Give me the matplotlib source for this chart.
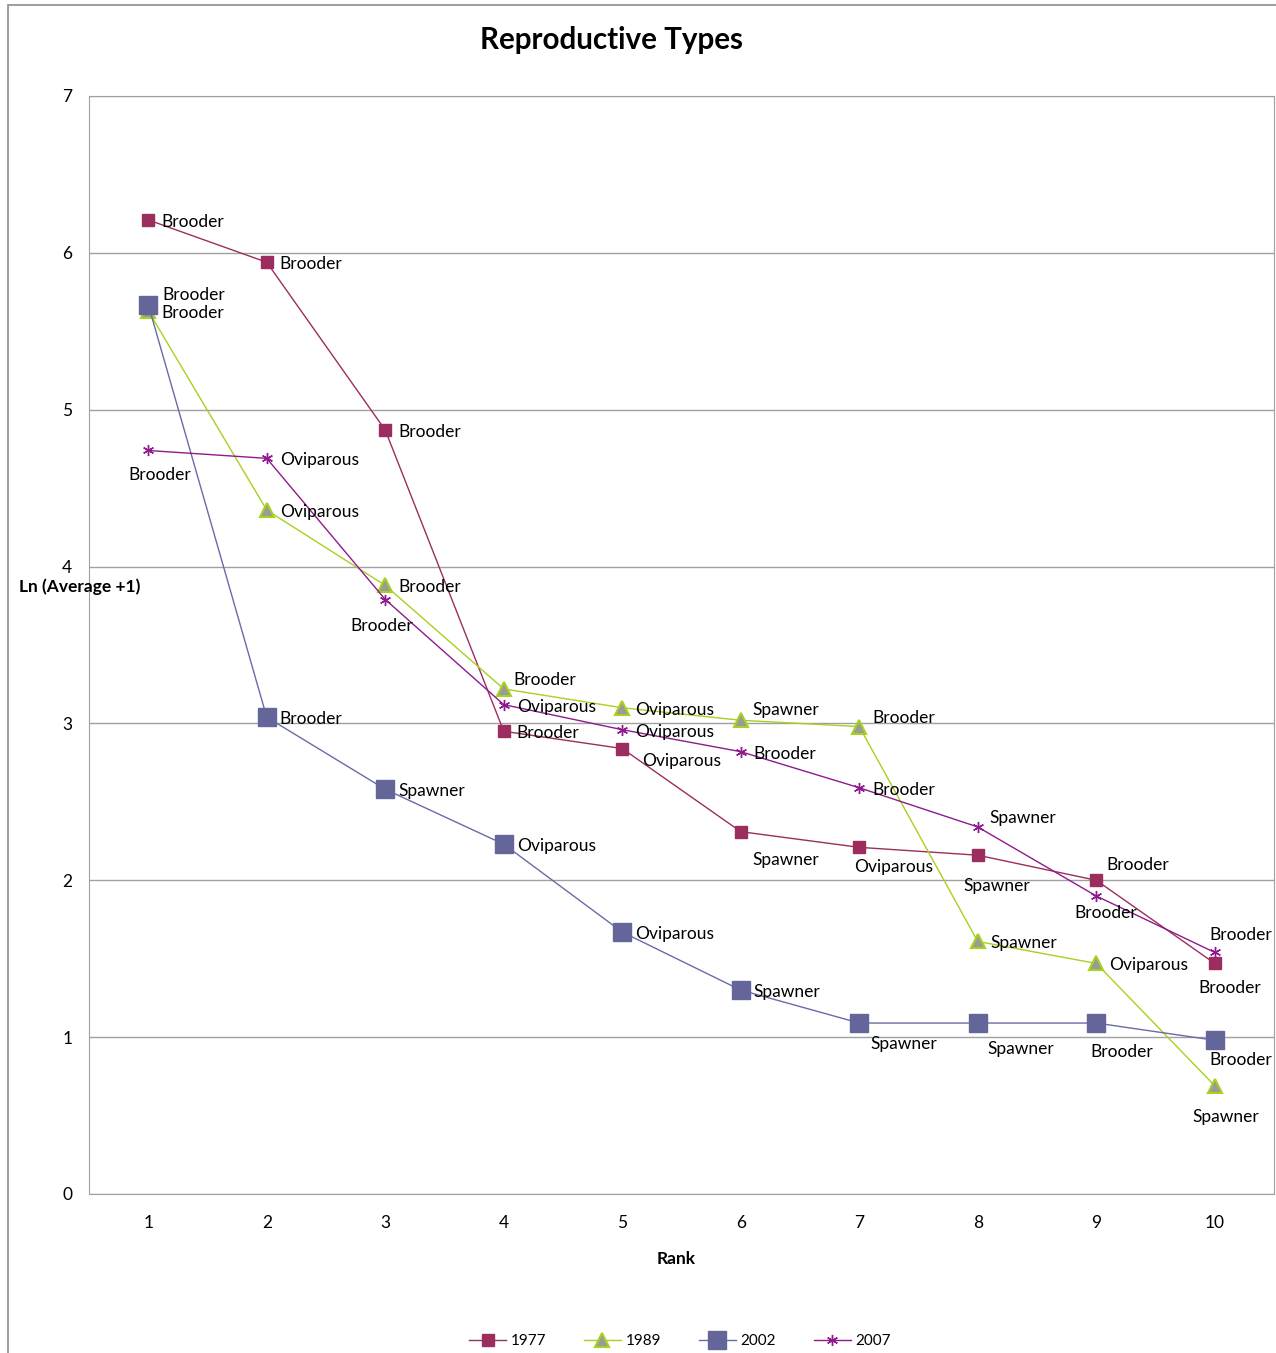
import numpy as np
import matplotlib.pyplot as plt
from matplotlib.patches import Rectangle

plt.rcParams['font.family'] = ['Lato', 'DejaVu Sans']

rank = [1, 2, 3, 4, 5, 6, 7, 8, 9, 10]

# values
y1977 = [6.21, 5.94, 4.87, 2.95, 2.84, 2.31, 2.21, 2.16, 2.00, 1.47]
y1989 = [5.63, 4.36, 3.88, 3.22, 3.10, 3.02, 2.98, 1.61, 1.47, 0.69]
y2002 = [5.67, 3.04, 2.58, 2.23, 1.67, 1.30, 1.09, 1.09, 1.09, 0.98]
y2007 = [4.74, 4.69, 3.79, 3.12, 2.96, 2.82, 2.59, 2.34, 1.90, 1.54]

lab1977 = ['Brooder', 'Brooder', 'Brooder', 'Brooder', 'Oviparous', 'Spawner',
           'Oviparous', 'Spawner', 'Brooder', 'Brooder']
lab1989 = ['Brooder', 'Oviparous', 'Brooder', 'Brooder', 'Oviparous', 'Spawner',
           'Brooder', 'Spawner', 'Oviparous', 'Spawner']
lab2002 = ['Brooder', 'Brooder', 'Spawner', 'Oviparous', 'Oviparous', 'Spawner',
           'Spawner', 'Spawner', 'Brooder', 'Brooder']
lab2007 = ['Brooder', 'Oviparous', 'Brooder', 'Oviparous', 'Oviparous', 'Brooder',
           'Brooder', 'Spawner', 'Brooder', 'Brooder']

# label placement: 'r' = right of point, else centred offset (dx, dy) in px, dy downwards
pos1977 = ['r', 'r', 'r', 'r', (59, 10), (45, 26), (34, 18), (19, 29), (42, -17), (15, 23)]
pos1989 = ['r', 'r', 'r', (41, -11), 'r', (45, -12), (45, -11), 'r', 'r', (11, 29)]
pos2002 = [(45, -12), 'r', 'r', 'r', 'r', 'r', (45, 19), (43, 24), (26, 27), (26, 18)]
pos2007 = [(11, 23), 'r', (-4, 24), 'r', 'r', 'r', 'r', (45, -11), (9, 15), (26, -19)]

fig = plt.figure(figsize=(12.76, 13.53), dpi=100)
ax = fig.add_axes([89/1276, 1-1194/1353, (1274-89)/1276, (1194-96)/1353])

series = [
    ('1977', y1977, lab1977, pos1977, dict(color='#9b2d5f', marker='s', ms=8.5, mfc='#9b2d5f', mec='#9b2d5f')),
    ('1989', y1989, lab1989, pos1989, dict(color='#a6d11f', marker='^', ms=10, mfc='#9a9a9a', mec='#a6d11f', mew=1.5)),
    ('2002', y2002, lab2002, pos2002, dict(color='#6a6aa8', marker='s', ms=13, mfc='#646699', mec='#646699')),
    ('2007', y2007, lab2007, pos2007, dict(color='#8e1a8e', marker=(6, 2, 0), ms=8, mec='#8e1a8e', mew=1)),
]

fs = 12.5
for name, ys, labs, pos, st in series:
    ax.plot(rank, ys, lw=1, label=name, **st)
    for x, y, t, p in zip(rank, ys, labs, pos):
        if p == 'r':
            ax.annotate(t, (x, y), xytext=(13, -2), textcoords='offset pixels',
                        ha='left', va='center', fontsize=fs)
        else:
            ax.annotate(t, (x, y), xytext=(p[0], -p[1] - 2), textcoords='offset pixels',
                        ha='center', va='center', fontsize=fs)

ax.set_xlim(0.5, 10.5)
ax.set_ylim(0, 7)
ax.set_xticks(rank)
ax.set_yticks(range(0, 8))
ax.tick_params(axis='x', length=0, labelsize=fs, pad=15)
ax.tick_params(axis='y', length=0, labelsize=fs, pad=12)
ax.yaxis.grid(True, color='#a0a0a0', lw=1)
ax.set_axisbelow(True)
for s in ax.spines.values():
    s.set_color('#a0a0a0')

fig.text(612/1276, 1-40/1353, 'Reproductive Types', ha='center', va='center',
         fontsize=21.3, fontweight='bold')
fig.text(80/1276, 1-587/1353, 'Ln (Average +1)', ha='center', va='center',
         fontsize=12.5, fontweight='bold')
fig.text(676/1276, 1-1259/1353, 'Rank', ha='center', va='center',
         fontsize=12.5, fontweight='bold')

fig.legend(loc='center', bbox_to_anchor=(680/1276, 1-1341/1353), ncol=4, frameon=False,
           fontsize=11, handlelength=2.4, columnspacing=2.5, handletextpad=0.3)

fig.patches.append(Rectangle((8/1276, -0.1), 1.2, 0.1+1-5/1353, transform=fig.transFigure,
                             fill=False, ec='#8c8c8c', lw=1.2))

fig.savefig('out.png', dpi=100)
